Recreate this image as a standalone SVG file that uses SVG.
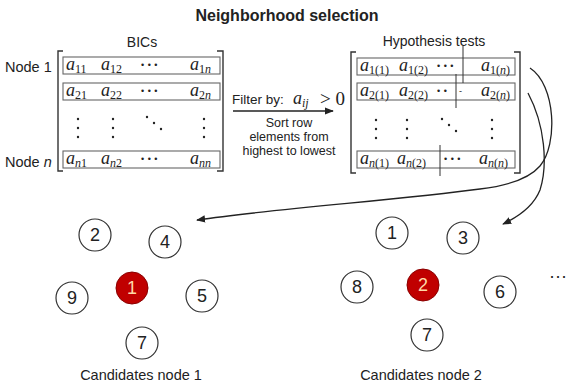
<svg xmlns="http://www.w3.org/2000/svg" width="572" height="382" viewBox="0 0 572 382">
<defs>
<marker id="ah" viewBox="0 0 10 10" refX="9" refY="5" markerWidth="9" markerHeight="9" orient="auto" markerUnits="userSpaceOnUse"><path d="M0,1 L10,5 L0,9 Z" fill="#222"/></marker>
<style>
.t{font-family:"Liberation Sans",Arial,sans-serif;fill:#222}
.m{font-family:"Liberation Serif","Times New Roman",serif;font-style:italic;fill:#222;font-size:18px}
.s{font-family:"Liberation Serif","Times New Roman",serif;font-style:normal;fill:#222;font-size:12px}
.si{font-style:italic}
.br{fill:none;stroke:#333;stroke-width:1.4}
.row{fill:none;stroke:#666;stroke-width:1.1}
.sep{stroke:#333;stroke-width:1}
.d{fill:#222}
.dots{font-family:"Liberation Sans",Arial,sans-serif;font-size:9px;fill:#222;letter-spacing:0.5px}
.c{fill:#fff;stroke:#333;stroke-width:1.2}
.cr{fill:#c00000;stroke:#8a0000;stroke-width:1}
.n{font-family:"Liberation Sans",Arial,sans-serif;font-size:18px;fill:#222;text-anchor:middle}
.nr{fill:#ffd9a8}
.con{fill:none;stroke:#222;stroke-width:1.3}
</style>
</defs>
<rect width="572" height="382" fill="#fff"/>
<text class="t" x="287" y="21" font-size="16" font-weight="bold" text-anchor="middle">Neighborhood selection</text>

<g id="bics">
<text class="t" x="142" y="47" font-size="14" text-anchor="middle">BICs</text>
<text class="t" x="5" y="72" font-size="14.5">Node 1</text>
<text class="t" x="5" y="167" font-size="14.5">Node <tspan font-style="italic">n</tspan></text>
<path class="br" d="M63,51 H58 V171 H63 M217,51 H223 V171 H217"/>
<rect class="row" x="63" y="57" width="157" height="17"/>
<rect class="row" x="63" y="83" width="157" height="17"/>
<rect class="row" x="63" y="151" width="157" height="17"/>
<text class="m" x="66" y="70">a<tspan class="s" dy="3">11</tspan></text>
<text class="m" x="101" y="70">a<tspan class="s" dy="3">12</tspan></text>
<text class="dots" x="141" y="68">• • •</text>
<text class="m" x="190" y="70">a<tspan class="s" dy="3">1<tspan class="si">n</tspan></tspan></text>
<text class="m" x="66" y="96">a<tspan class="s" dy="3">21</tspan></text>
<text class="m" x="101" y="96">a<tspan class="s" dy="3">22</tspan></text>
<text class="dots" x="141" y="94">• • •</text>
<text class="m" x="190" y="96">a<tspan class="s" dy="3">2<tspan class="si">n</tspan></tspan></text>
<text class="m" x="66" y="164">a<tspan class="s si" dy="3">n</tspan><tspan class="s">1</tspan></text>
<text class="m" x="101" y="164">a<tspan class="s si" dy="3">n</tspan><tspan class="s">2</tspan></text>
<text class="dots" x="141" y="162">• • •</text>
<text class="m" x="190" y="164">a<tspan class="s si" dy="3">nn</tspan></text>
<g class="d">
<circle cx="78" cy="119" r="1.2"/><circle cx="78" cy="128" r="1.2"/><circle cx="78" cy="137" r="1.2"/>
<circle cx="113" cy="119" r="1.2"/><circle cx="113" cy="128" r="1.2"/><circle cx="113" cy="137" r="1.2"/>
<circle cx="147" cy="117" r="1.2"/><circle cx="154" cy="123" r="1.2"/><circle cx="161" cy="129" r="1.2"/>
<circle cx="204" cy="119" r="1.2"/><circle cx="204" cy="128" r="1.2"/><circle cx="204" cy="137" r="1.2"/>
</g>
</g>

<g id="filter">
<text class="t" x="232" y="104" font-size="13.5">Filter by: </text>
<text class="m" x="293" y="104">a<tspan class="s si" dy="3">ij</tspan></text>
<text x="320" y="105" font-family="'Liberation Serif',serif" font-size="19" fill="#222">&gt; 0</text>
<text class="t" x="289" y="127" font-size="12.5" text-anchor="middle">Sort row</text>
<text class="t" x="289" y="141" font-size="12.5" text-anchor="middle">elements  from</text>
<text class="t" x="289" y="155" font-size="12.5" text-anchor="middle">highest to lowest</text>
</g>

<g id="hyp">
<text class="t" x="434" y="46" font-size="14" text-anchor="middle">Hypothesis tests</text>
<path class="br" d="M356,52 H351 V173 H356 M514,52 H520 V173 H514"/>
<rect class="row" x="357" y="58" width="158" height="17"/>
<rect class="row" x="357" y="83" width="158" height="17"/>
<rect class="row" x="357" y="151" width="158" height="17"/>
<line class="sep" x1="463" y1="46" x2="463" y2="83"/>
<line class="sep" x1="456" y1="74" x2="456" y2="108"/>
<line class="sep" x1="440" y1="145" x2="440" y2="176"/>
<text class="m" x="360" y="71">a<tspan class="s" dy="3">1(1)</tspan></text>
<text class="m" x="399" y="71">a<tspan class="s" dy="3">1(2)</tspan></text>
<text class="dots" x="437" y="69">• • •</text>
<text class="m" x="481" y="71">a<tspan class="s" dy="3">1(<tspan class="si">n</tspan>)</tspan></text>
<text class="m" x="360" y="96">a<tspan class="s" dy="3">2(1)</tspan></text>
<text class="m" x="399" y="96">a<tspan class="s" dy="3">2(2)</tspan></text>
<text class="dots" x="437" y="94">• •</text>
<text class="dots" x="459" y="94">-</text>
<text class="m" x="481" y="96">a<tspan class="s" dy="3">2(<tspan class="si">n</tspan>)</tspan></text>
<text class="m" x="360" y="164">a<tspan class="s" dy="3"><tspan class="si">n</tspan>(1)</tspan></text>
<text class="m" x="397" y="164">a<tspan class="s" dy="3"><tspan class="si">n</tspan>(2)</tspan></text>
<text class="dots" x="444" y="162">• • •</text>
<text class="m" x="479" y="164">a<tspan class="s" dy="3"><tspan class="si">n</tspan>(<tspan class="si">n</tspan>)</tspan></text>
<g class="d">
<circle cx="376" cy="120" r="1.2"/><circle cx="376" cy="129" r="1.2"/><circle cx="376" cy="138" r="1.2"/>
<circle cx="407" cy="120" r="1.2"/><circle cx="407" cy="129" r="1.2"/><circle cx="407" cy="138" r="1.2"/>
<circle cx="442" cy="119" r="1.2"/><circle cx="449" cy="125" r="1.2"/><circle cx="456" cy="131" r="1.2"/>
<circle cx="492" cy="120" r="1.2"/><circle cx="492" cy="129" r="1.2"/><circle cx="492" cy="138" r="1.2"/>
</g>
</g>

<g id="connectors">
<line class="con" x1="233" y1="111" x2="333" y2="111" marker-end="url(#ah)"/>
<path class="con" d="M530,68 C556,85 558,145 540,166 C528,180 505,186 480,189 C400,200 280,208 197,220" marker-end="url(#ah)"/>
<path class="con" d="M528,93 C545,125 548,165 540,190 C534,205 520,216 503,224" marker-end="url(#ah)"/>
</g>

<g id="n1-2"><circle class="c" cx="95" cy="235" r="16"/><text class="n" x="95" y="241">2</text></g>
<g id="n1-4"><circle class="c" cx="165" cy="242" r="16"/><text class="n" x="165" y="248">4</text></g>
<g id="n1-1"><circle class="cr" cx="132" cy="288" r="16"/><text class="n nr" x="132" y="294">1</text></g>
<g id="n1-9"><circle class="c" cx="72" cy="298" r="16"/><text class="n" x="72" y="304">9</text></g>
<g id="n1-5"><circle class="c" cx="202" cy="296" r="16"/><text class="n" x="202" y="302">5</text></g>
<g id="n1-7"><circle class="c" cx="142" cy="343" r="16"/><text class="n" x="142" y="349">7</text></g>
<text class="t" x="141" y="380" font-size="14.5" text-anchor="middle">Candidates node 1</text>

<g id="n2-1"><circle class="c" cx="392" cy="233" r="16"/><text class="n" x="392" y="239">1</text></g>
<g id="n2-3"><circle class="c" cx="463" cy="238" r="16"/><text class="n" x="463" y="244">3</text></g>
<g id="n2-8"><circle class="c" cx="357" cy="287" r="16"/><text class="n" x="357" y="293">8</text></g>
<g id="n2-2"><circle class="cr" cx="423" cy="285" r="16"/><text class="n nr" x="423" y="291">2</text></g>
<g id="n2-6"><circle class="c" cx="500" cy="292" r="16"/><text class="n" x="500" y="298">6</text></g>
<g id="n2-7"><circle class="c" cx="427" cy="335" r="16"/><text class="n" x="427" y="341">7</text></g>
<text class="t" x="421" y="380" font-size="14.5" text-anchor="middle">Candidates node 2</text>
<text class="t" x="558" y="282" font-size="18" text-anchor="middle">···</text>
</svg>
